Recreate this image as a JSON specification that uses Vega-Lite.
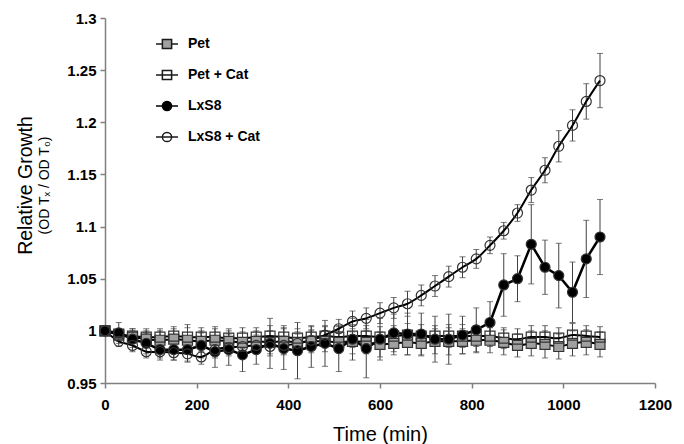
{
  "$schema": "https://vega.github.io/schema/vega-lite/v6.json",
  "width": 550,
  "height": 365,
  "autosize": {"type": "none"},
  "padding": {"left": 105, "top": 18, "right": 29, "bottom": 61},
  "background": "#ffffff",
  "title": {
    "text": "Relative Growth",
    "subtitle": "(OD Tₓ / OD T₀)",
    "orient": "left",
    "anchor": "middle",
    "frame": "group",
    "font": "Liberation Sans",
    "fontSize": 19.5,
    "fontWeight": "normal",
    "color": "#000000",
    "subtitleFont": "Liberation Sans",
    "subtitleFontSize": 14,
    "subtitleColor": "#000000",
    "subtitlePadding": 1,
    "offset": 14,
    "dx": 15
  },
  "config": {
    "view": {"stroke": null},
    "font": "Liberation Sans",
    "axis": {
      "grid": false,
      "domainColor": "#808080",
      "domainWidth": 1.5,
      "tickColor": "#808080",
      "tickWidth": 1.5,
      "tickSize": 5,
      "labelFont": "Liberation Sans",
      "labelFontWeight": "bold",
      "labelFontSize": 15,
      "labelColor": "#000000",
      "labelFlush": false,
      "labelOverlap": false,
      "titleFont": "Liberation Sans",
      "titleFontWeight": "normal",
      "titleFontSize": 20,
      "titleColor": "#000000"
    }
  },
  "data": {
    "values": [
      {"t": 0, "s": "Pet", "v": 1.0, "e": 0},
      {"t": 30, "s": "Pet", "v": 0.996, "e": 0.006},
      {"t": 60, "s": "Pet", "v": 0.994, "e": 0.008},
      {"t": 90, "s": "Pet", "v": 0.992, "e": 0.008},
      {"t": 120, "s": "Pet", "v": 0.991, "e": 0.009},
      {"t": 150, "s": "Pet", "v": 0.992, "e": 0.01},
      {"t": 180, "s": "Pet", "v": 0.991, "e": 0.012},
      {"t": 210, "s": "Pet", "v": 0.99, "e": 0.01},
      {"t": 240, "s": "Pet", "v": 0.991, "e": 0.011},
      {"t": 270, "s": "Pet", "v": 0.99, "e": 0.01},
      {"t": 300, "s": "Pet", "v": 0.989, "e": 0.01},
      {"t": 330, "s": "Pet", "v": 0.99, "e": 0.01},
      {"t": 360, "s": "Pet", "v": 0.989, "e": 0.011},
      {"t": 390, "s": "Pet", "v": 0.99, "e": 0.012},
      {"t": 420, "s": "Pet", "v": 0.989, "e": 0.01},
      {"t": 450, "s": "Pet", "v": 0.99, "e": 0.011},
      {"t": 480, "s": "Pet", "v": 0.99, "e": 0.01},
      {"t": 510, "s": "Pet", "v": 0.989, "e": 0.01},
      {"t": 540, "s": "Pet", "v": 0.99, "e": 0.012},
      {"t": 570, "s": "Pet", "v": 0.989, "e": 0.011},
      {"t": 600, "s": "Pet", "v": 0.987, "e": 0.012},
      {"t": 630, "s": "Pet", "v": 0.988, "e": 0.011},
      {"t": 660, "s": "Pet", "v": 0.989, "e": 0.012},
      {"t": 690, "s": "Pet", "v": 0.988, "e": 0.012},
      {"t": 720, "s": "Pet", "v": 0.99, "e": 0.012},
      {"t": 750, "s": "Pet", "v": 0.99, "e": 0.013},
      {"t": 780, "s": "Pet", "v": 0.99, "e": 0.012},
      {"t": 810, "s": "Pet", "v": 0.991, "e": 0.012},
      {"t": 840, "s": "Pet", "v": 0.991, "e": 0.012},
      {"t": 870, "s": "Pet", "v": 0.989, "e": 0.012},
      {"t": 900, "s": "Pet", "v": 0.986, "e": 0.011},
      {"t": 930, "s": "Pet", "v": 0.988, "e": 0.012},
      {"t": 960, "s": "Pet", "v": 0.987, "e": 0.013},
      {"t": 990, "s": "Pet", "v": 0.985, "e": 0.012},
      {"t": 1020, "s": "Pet", "v": 0.988, "e": 0.012},
      {"t": 1050, "s": "Pet", "v": 0.989, "e": 0.012},
      {"t": 1080, "s": "Pet", "v": 0.987, "e": 0.012},
      {"t": 0, "s": "Pet + Cat", "v": 1.0, "e": 0},
      {"t": 30, "s": "Pet + Cat", "v": 0.997, "e": 0.005},
      {"t": 60, "s": "Pet + Cat", "v": 0.995, "e": 0.007},
      {"t": 90, "s": "Pet + Cat", "v": 0.994, "e": 0.008},
      {"t": 120, "s": "Pet + Cat", "v": 0.994, "e": 0.008},
      {"t": 150, "s": "Pet + Cat", "v": 0.995, "e": 0.009},
      {"t": 180, "s": "Pet + Cat", "v": 0.994, "e": 0.012},
      {"t": 210, "s": "Pet + Cat", "v": 0.994, "e": 0.009},
      {"t": 240, "s": "Pet + Cat", "v": 0.994, "e": 0.01},
      {"t": 270, "s": "Pet + Cat", "v": 0.993, "e": 0.009},
      {"t": 300, "s": "Pet + Cat", "v": 0.993, "e": 0.01},
      {"t": 330, "s": "Pet + Cat", "v": 0.994, "e": 0.009},
      {"t": 360, "s": "Pet + Cat", "v": 0.995, "e": 0.01},
      {"t": 390, "s": "Pet + Cat", "v": 0.994, "e": 0.011},
      {"t": 420, "s": "Pet + Cat", "v": 0.993, "e": 0.009},
      {"t": 450, "s": "Pet + Cat", "v": 0.994, "e": 0.01},
      {"t": 480, "s": "Pet + Cat", "v": 0.995, "e": 0.009},
      {"t": 510, "s": "Pet + Cat", "v": 0.994, "e": 0.01},
      {"t": 540, "s": "Pet + Cat", "v": 0.995, "e": 0.011},
      {"t": 570, "s": "Pet + Cat", "v": 0.995, "e": 0.01},
      {"t": 600, "s": "Pet + Cat", "v": 0.994, "e": 0.01},
      {"t": 630, "s": "Pet + Cat", "v": 0.995, "e": 0.01},
      {"t": 660, "s": "Pet + Cat", "v": 0.996, "e": 0.011},
      {"t": 690, "s": "Pet + Cat", "v": 0.995, "e": 0.011},
      {"t": 720, "s": "Pet + Cat", "v": 0.995, "e": 0.01},
      {"t": 750, "s": "Pet + Cat", "v": 0.995, "e": 0.011},
      {"t": 780, "s": "Pet + Cat", "v": 0.995, "e": 0.011},
      {"t": 810, "s": "Pet + Cat", "v": 0.995, "e": 0.01},
      {"t": 840, "s": "Pet + Cat", "v": 0.995, "e": 0.01},
      {"t": 870, "s": "Pet + Cat", "v": 0.993, "e": 0.01},
      {"t": 900, "s": "Pet + Cat", "v": 0.992, "e": 0.01},
      {"t": 930, "s": "Pet + Cat", "v": 0.994, "e": 0.011},
      {"t": 960, "s": "Pet + Cat", "v": 0.994, "e": 0.011},
      {"t": 990, "s": "Pet + Cat", "v": 0.993, "e": 0.01},
      {"t": 1020, "s": "Pet + Cat", "v": 0.996, "e": 0.011},
      {"t": 1050, "s": "Pet + Cat", "v": 0.995, "e": 0.01},
      {"t": 1080, "s": "Pet + Cat", "v": 0.994, "e": 0.01},
      {"t": 0, "s": "LxS8", "v": 1.0, "e": 0},
      {"t": 30, "s": "LxS8", "v": 0.998, "e": 0.01},
      {"t": 60, "s": "LxS8", "v": 0.992, "e": 0.008},
      {"t": 90, "s": "LxS8", "v": 0.988, "e": 0.01},
      {"t": 120, "s": "LxS8", "v": 0.982, "e": 0.01},
      {"t": 150, "s": "LxS8", "v": 0.982, "e": 0.01},
      {"t": 180, "s": "LxS8", "v": 0.982, "e": 0.012},
      {"t": 210, "s": "LxS8", "v": 0.986, "e": 0.012},
      {"t": 240, "s": "LxS8", "v": 0.98, "e": 0.015},
      {"t": 270, "s": "LxS8", "v": 0.982, "e": 0.015},
      {"t": 300, "s": "LxS8", "v": 0.977, "e": 0.016},
      {"t": 330, "s": "LxS8", "v": 0.982, "e": 0.014},
      {"t": 360, "s": "LxS8", "v": 0.988, "e": 0.024},
      {"t": 390, "s": "LxS8", "v": 0.983, "e": 0.02},
      {"t": 420, "s": "LxS8", "v": 0.981, "e": 0.027},
      {"t": 450, "s": "LxS8", "v": 0.985, "e": 0.02},
      {"t": 480, "s": "LxS8", "v": 0.988, "e": 0.022},
      {"t": 510, "s": "LxS8", "v": 0.983, "e": 0.022},
      {"t": 540, "s": "LxS8", "v": 0.992, "e": 0.02},
      {"t": 570, "s": "LxS8", "v": 0.983, "e": 0.028},
      {"t": 600, "s": "LxS8", "v": 0.992, "e": 0.02},
      {"t": 630, "s": "LxS8", "v": 0.998, "e": 0.018},
      {"t": 660, "s": "LxS8", "v": 0.997, "e": 0.02},
      {"t": 690, "s": "LxS8", "v": 0.997, "e": 0.02},
      {"t": 720, "s": "LxS8", "v": 0.992, "e": 0.022},
      {"t": 750, "s": "LxS8", "v": 0.992, "e": 0.024},
      {"t": 780, "s": "LxS8", "v": 0.996, "e": 0.018},
      {"t": 810, "s": "LxS8", "v": 1.001, "e": 0.021},
      {"t": 840, "s": "LxS8", "v": 1.008, "e": 0.02},
      {"t": 870, "s": "LxS8", "v": 1.044, "e": 0.03},
      {"t": 900, "s": "LxS8", "v": 1.05, "e": 0.022},
      {"t": 930, "s": "LxS8", "v": 1.083, "e": 0.038},
      {"t": 960, "s": "LxS8", "v": 1.061, "e": 0.026},
      {"t": 990, "s": "LxS8", "v": 1.053, "e": 0.031},
      {"t": 1020, "s": "LxS8", "v": 1.037, "e": 0.029},
      {"t": 1050, "s": "LxS8", "v": 1.069, "e": 0.037},
      {"t": 1080, "s": "LxS8", "v": 1.09, "e": 0.036},
      {"t": 0, "s": "LxS8 + Cat", "v": 1.0, "e": 0},
      {"t": 30, "s": "LxS8 + Cat", "v": 0.99, "e": 0.005},
      {"t": 60, "s": "LxS8 + Cat", "v": 0.986, "e": 0.006},
      {"t": 90, "s": "LxS8 + Cat", "v": 0.98, "e": 0.006},
      {"t": 120, "s": "LxS8 + Cat", "v": 0.98, "e": 0.006},
      {"t": 150, "s": "LxS8 + Cat", "v": 0.979, "e": 0.007},
      {"t": 180, "s": "LxS8 + Cat", "v": 0.978, "e": 0.007},
      {"t": 210, "s": "LxS8 + Cat", "v": 0.975, "e": 0.007},
      {"t": 240, "s": "LxS8 + Cat", "v": 0.982, "e": 0.008},
      {"t": 270, "s": "LxS8 + Cat", "v": 0.984, "e": 0.008},
      {"t": 300, "s": "LxS8 + Cat", "v": 0.985, "e": 0.008},
      {"t": 330, "s": "LxS8 + Cat", "v": 0.986, "e": 0.008},
      {"t": 360, "s": "LxS8 + Cat", "v": 0.985, "e": 0.009},
      {"t": 390, "s": "LxS8 + Cat", "v": 0.986, "e": 0.009},
      {"t": 420, "s": "LxS8 + Cat", "v": 0.988, "e": 0.009},
      {"t": 450, "s": "LxS8 + Cat", "v": 0.991, "e": 0.009},
      {"t": 480, "s": "LxS8 + Cat", "v": 0.996, "e": 0.009},
      {"t": 510, "s": "LxS8 + Cat", "v": 1.002, "e": 0.009},
      {"t": 540, "s": "LxS8 + Cat", "v": 1.009, "e": 0.01},
      {"t": 570, "s": "LxS8 + Cat", "v": 1.012, "e": 0.01},
      {"t": 600, "s": "LxS8 + Cat", "v": 1.017, "e": 0.01},
      {"t": 630, "s": "LxS8 + Cat", "v": 1.022, "e": 0.01},
      {"t": 660, "s": "LxS8 + Cat", "v": 1.026, "e": 0.012},
      {"t": 690, "s": "LxS8 + Cat", "v": 1.034, "e": 0.01},
      {"t": 720, "s": "LxS8 + Cat", "v": 1.043, "e": 0.01},
      {"t": 750, "s": "LxS8 + Cat", "v": 1.052, "e": 0.01},
      {"t": 780, "s": "LxS8 + Cat", "v": 1.061, "e": 0.01},
      {"t": 810, "s": "LxS8 + Cat", "v": 1.069, "e": 0.009},
      {"t": 840, "s": "LxS8 + Cat", "v": 1.082, "e": 0.008},
      {"t": 870, "s": "LxS8 + Cat", "v": 1.096, "e": 0.008},
      {"t": 900, "s": "LxS8 + Cat", "v": 1.113, "e": 0.008},
      {"t": 930, "s": "LxS8 + Cat", "v": 1.135, "e": 0.012},
      {"t": 960, "s": "LxS8 + Cat", "v": 1.154, "e": 0.012},
      {"t": 990, "s": "LxS8 + Cat", "v": 1.177, "e": 0.015},
      {"t": 1020, "s": "LxS8 + Cat", "v": 1.197, "e": 0.015},
      {"t": 1050, "s": "LxS8 + Cat", "v": 1.22, "e": 0.017},
      {"t": 1080, "s": "LxS8 + Cat", "v": 1.24, "e": 0.026}
    ]
  },
  "layer": [
    {
      "mark": {"type": "errorbar", "ticks": true, "size": 6, "thickness": 1, "color": "#404040"},
      "encoding": {
        "x": {"field": "t", "type": "quantitative", "scale": {"domain": [0, 1200]},
              "axis": {"values": [0, 200, 400, 600, 800, 1000, 1200], "format": "d", "title": "Time (min)", "labelPadding": 9, "titlePadding": 12}},
        "y": {"field": "v", "type": "quantitative", "scale": {"domain": [0.95, 1.3]},
              "axis": {"values": [0.95, 1, 1.05, 1.1, 1.15, 1.2, 1.25, 1.3], "format": "~g", "title": null, "labelPadding": 4}},
        "yError": {"field": "e"},
        "detail": {"field": "s"}
      }
    },
    {
      "transform": [{"filter": "datum.s !== 'LxS8'"}],
      "mark": {"type": "line", "interpolate": "catmull-rom", "color": "#000000", "strokeWidth": 2},
      "encoding": {
        "x": {"field": "t", "type": "quantitative"},
        "y": {"field": "v", "type": "quantitative"},
        "detail": {"field": "s"}
      }
    },
    {
      "transform": [{"filter": "datum.s === 'LxS8'"}],
      "mark": {"type": "line", "color": "#000000", "strokeWidth": 2.5},
      "encoding": {
        "x": {"field": "t", "type": "quantitative"},
        "y": {"field": "v", "type": "quantitative"}
      }
    },
    {
      "mark": {"type": "point", "filled": true, "size": 100, "stroke": "#333333", "strokeWidth": 1.2, "opacity": 1},
      "encoding": {
        "x": {"field": "t", "type": "quantitative"},
        "y": {"field": "v", "type": "quantitative"},
        "shape": {"field": "s", "type": "nominal", "legend": null,
                  "scale": {"domain": ["Pet", "Pet + Cat", "LxS8", "LxS8 + Cat"], "range": ["square", "square", "circle", "circle"]}},
        "fill": {"field": "s", "type": "nominal", "legend": null,
                 "scale": {"domain": ["Pet", "Pet + Cat", "LxS8", "LxS8 + Cat"], "range": ["#a0a0a0", "transparent", "#000000", "transparent"]}}
      }
    },
    {
      "transform": [{"filter": "datum.t < 0"}],
      "mark": {"type": "point", "filled": true, "size": 484, "strokeWidth": 1.5, "opacity": 1},
      "encoding": {
        "x": {"field": "t", "type": "quantitative"},
        "y": {"field": "v", "type": "quantitative"},
        "shape": {"field": "s", "type": "nominal",
                  "scale": {"domain": ["Pet", "Pet + Cat", "LxS8", "LxS8 + Cat"],
                            "range": ["M-1,0H-0.42M0.42,0H1M-0.42,-0.42H0.42V0.42H-0.42Z",
                                      "M-1,0H1M-0.42,-0.42H0.42V0.42H-0.42Z",
                                      "M-1,0H1M0.42,0A0.42,0.42,0,1,1,-0.42,0A0.42,0.42,0,1,1,0.42,0Z",
                                      "M-1,0H1M0.42,0A0.42,0.42,0,1,1,-0.42,0A0.42,0.42,0,1,1,0.42,0Z"]},
                  "legend": {"orient": "none", "legendX": 50, "legendY": 14, "title": null, "padding": 0,
                             "symbolSize": 484, "symbolStrokeWidth": 1.5, "symbolOpacity": 1,
                             "labelFont": "Liberation Sans", "labelFontSize": 14, "labelFontWeight": "bold", "labelColor": "#000000",
                             "labelOffset": 9, "rowPadding": 11}},
        "fill": {"field": "s", "type": "nominal",
                 "scale": {"domain": ["Pet", "Pet + Cat", "LxS8", "LxS8 + Cat"], "range": ["#a0a0a0", "#ffffff", "#000000", "#ffffff"]},
                 "legend": {"orient": "none", "legendX": 50, "legendY": 14, "title": null, "padding": 0,
                            "symbolSize": 484, "symbolStrokeWidth": 1.5, "symbolOpacity": 1,
                            "labelFont": "Liberation Sans", "labelFontSize": 14, "labelFontWeight": "bold", "labelColor": "#000000",
                            "labelOffset": 9, "rowPadding": 11}},
        "stroke": {"field": "s", "type": "nominal",
                   "scale": {"domain": ["Pet", "Pet + Cat", "LxS8", "LxS8 + Cat"], "range": ["#1a1a1a", "#1a1a1a", "#000000", "#1a1a1a"]},
                   "legend": {"orient": "none", "legendX": 50, "legendY": 14, "title": null, "padding": 0,
                              "symbolSize": 484, "symbolStrokeWidth": 1.5, "symbolOpacity": 1,
                              "labelFont": "Liberation Sans", "labelFontSize": 14, "labelFontWeight": "bold", "labelColor": "#000000",
                              "labelOffset": 9, "rowPadding": 11}}
      }
    }
  ],
  "resolve": {"scale": {"shape": "independent", "fill": "independent", "stroke": "independent"}}
}
